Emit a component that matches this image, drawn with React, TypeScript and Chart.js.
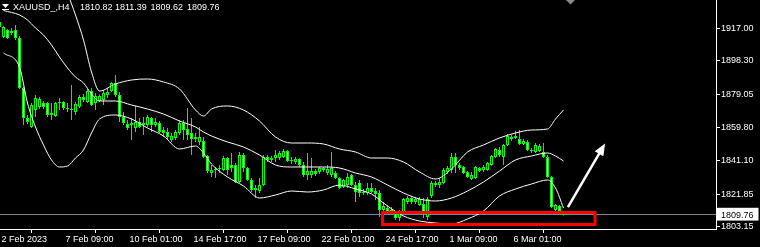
import React, { useEffect, useRef } from 'react';
import { Chart, registerables } from 'chart.js';

Chart.register(...registerables);

// ---- OHLC (H4 bars, index 0 is the partly hidden first bar) ----
const opens = [
  1917.8, 1912.0, 1916.0, 1914.3, 1916.0, 1911.4, 1882.7, 1865.5, 1860.4, 1870.1,
  1871.8, 1874.1, 1874.1, 1867.3, 1866.7, 1874.1, 1874.7, 1871.3, 1870.7, 1869.0,
  1872.0, 1877.6, 1874.7, 1881.0, 1874.1, 1875.3, 1875.9, 1878.7, 1881.0, 1885.6,
  1878.7, 1866.1, 1862.1, 1861.5, 1859.8, 1863.2, 1861.5, 1861.5, 1865.5, 1861.5,
  1862.7, 1858.6, 1857.5, 1852.9, 1854.1, 1856.9, 1862.7, 1859.2, 1856.9, 1853.5,
  1851.8, 1852.3, 1843.7, 1834.0, 1835.7, 1836.3, 1835.7, 1842.6, 1838.6, 1838.6,
  1828.8, 1844.3, 1836.8, 1830.0, 1824.2, 1823.6, 1827.1, 1843.2, 1841.4, 1842.6,
  1842.6, 1843.2, 1846.6, 1840.9, 1840.3, 1842.0, 1838.6, 1832.8, 1832.8, 1835.1,
  1834.5, 1836.8, 1834.0, 1832.8, 1834.0, 1831.1, 1825.9, 1827.1, 1832.8, 1827.1,
  1828.2, 1822.5, 1822.5, 1825.4, 1823.6, 1822.5, 1812.7, 1813.9, 1811.6, 1811.0,
  1808.1, 1811.6, 1817.3, 1819.6, 1817.3, 1815.6, 1816.2, 1808.7, 1820.8, 1828.2,
  1827.1, 1828.2, 1834.5, 1835.7, 1843.2, 1838.6, 1837.4, 1834.5, 1830.5, 1831.1,
  1836.8, 1835.7, 1835.7, 1838.6, 1843.2, 1847.2, 1843.2, 1850.0, 1853.5, 1854.1,
  1853.5, 1850.6, 1851.8, 1847.2, 1846.0, 1846.6, 1846.0, 1843.2, 1831.7, 1812.7,
  1815.0, 1810.82,
];
const highs = [
  1921.8, 1918.3, 1916.6, 1917.2, 1918.9, 1912.6, 1883.3, 1867.3, 1874.1, 1878.7,
  1877.6, 1875.3, 1874.7, 1874.1, 1874.7, 1877.0, 1875.3, 1874.1, 1884.5, 1874.7,
  1878.7, 1879.3, 1882.2, 1882.7, 1879.9, 1879.0, 1881.6, 1882.7, 1886.2, 1890.2,
  1880.5, 1869.0, 1864.4, 1865.5, 1872.4, 1865.5, 1866.1, 1867.3, 1866.1, 1865.5,
  1863.8, 1860.4, 1859.8, 1856.9, 1858.6, 1864.4, 1864.4, 1871.3, 1865.5, 1856.9,
  1860.4, 1854.6, 1844.3, 1838.6, 1837.4, 1838.6, 1843.7, 1843.2, 1845.5, 1839.7,
  1846.0, 1845.5, 1837.4, 1831.1, 1827.1, 1831.1, 1844.3, 1844.3, 1843.7, 1847.2,
  1846.6, 1847.7, 1847.2, 1843.2, 1843.2, 1842.6, 1840.3, 1845.5, 1842.6, 1836.3,
  1837.4, 1837.4, 1838.6, 1846.0, 1835.1, 1831.7, 1830.5, 1834.0, 1833.4, 1828.8,
  1830.0, 1824.8, 1828.2, 1828.2, 1825.4, 1824.2, 1817.3, 1815.6, 1814.5, 1812.2,
  1812.7, 1819.6, 1820.8, 1820.8, 1820.2, 1820.2, 1819.6, 1820.2, 1829.4, 1829.4,
  1831.1, 1836.8, 1838.0, 1845.5, 1845.5, 1839.7, 1838.0, 1835.1, 1834.5, 1838.0,
  1837.4, 1838.6, 1840.3, 1844.3, 1848.3, 1848.9, 1850.6, 1856.3, 1855.8, 1858.1,
  1858.6, 1853.5, 1852.9, 1848.3, 1851.2, 1850.6, 1851.2, 1844.3, 1832.3, 1816.2,
  1815.6, 1811.39,
];
const lows = [
  1917.2, 1911.4, 1910.9, 1913.2, 1910.3, 1882.2, 1861.5, 1862.1, 1859.8, 1866.1,
  1870.7, 1870.7, 1866.1, 1864.4, 1866.1, 1870.1, 1870.1, 1869.0, 1864.4, 1867.3,
  1871.3, 1874.7, 1874.1, 1872.4, 1870.1, 1874.7, 1873.0, 1877.0, 1880.5, 1877.6,
  1863.2, 1861.5, 1858.6, 1852.9, 1857.5, 1859.8, 1855.8, 1860.4, 1857.5, 1860.4,
  1856.9, 1854.6, 1852.9, 1851.8, 1852.9, 1855.8, 1852.9, 1852.9, 1844.3, 1851.8,
  1850.0, 1842.6, 1834.0, 1831.7, 1831.1, 1834.0, 1835.1, 1832.8, 1834.5, 1828.2,
  1828.2, 1834.5, 1829.4, 1823.1, 1819.6, 1822.5, 1826.5, 1840.3, 1840.3, 1840.3,
  1841.4, 1842.6, 1840.3, 1839.1, 1839.1, 1837.4, 1831.7, 1830.0, 1831.1, 1832.3,
  1833.4, 1834.5, 1832.8, 1831.7, 1830.5, 1824.8, 1825.4, 1825.4, 1826.5, 1817.3,
  1820.2, 1821.4, 1821.4, 1822.5, 1818.5, 1808.7, 1811.0, 1810.4, 1810.4, 1807.0,
  1806.4, 1810.4, 1816.2, 1816.2, 1816.2, 1815.0, 1808.1, 1807.0, 1819.6, 1825.9,
  1825.4, 1827.6, 1833.4, 1834.0, 1834.0, 1835.7, 1833.4, 1831.1, 1830.0, 1830.5,
  1834.5, 1834.5, 1835.1, 1838.0, 1842.6, 1843.2, 1838.6, 1849.5, 1852.3, 1853.5,
  1850.0, 1850.0, 1846.6, 1845.5, 1845.5, 1846.0, 1842.6, 1831.1, 1813.9, 1812.2,
  1811.0, 1809.62,
];
const closes = [
  1920.6, 1917.8, 1911.4, 1915.4, 1911.4, 1882.7, 1865.5, 1863.2, 1873.0, 1877.0,
  1876.4, 1871.8, 1867.3, 1868.4, 1874.1, 1874.7, 1871.3, 1870.7, 1870.1, 1873.6,
  1877.6, 1875.9, 1881.0, 1873.0, 1878.2, 1878.2, 1879.9, 1880.5, 1885.6, 1878.7,
  1866.1, 1862.7, 1859.8, 1862.7, 1863.2, 1860.4, 1862.7, 1866.1, 1861.5, 1863.2,
  1857.5, 1856.9, 1854.6, 1855.2, 1857.5, 1862.7, 1858.6, 1855.8, 1853.5, 1854.6,
  1854.6, 1843.2, 1835.1, 1835.7, 1836.3, 1836.8, 1842.6, 1835.7, 1836.8, 1828.8,
  1844.3, 1836.8, 1830.0, 1824.2, 1825.4, 1827.1, 1843.2, 1841.4, 1842.6, 1844.3,
  1845.5, 1846.6, 1840.9, 1841.4, 1842.0, 1838.6, 1832.8, 1835.1, 1835.1, 1833.4,
  1836.8, 1835.7, 1836.3, 1836.8, 1831.1, 1825.4, 1830.0, 1831.7, 1827.1, 1823.1,
  1822.5, 1823.1, 1825.4, 1823.1, 1821.9, 1812.7, 1815.0, 1811.6, 1812.7, 1808.1,
  1811.0, 1819.0, 1819.6, 1817.3, 1819.0, 1819.0, 1811.6, 1819.0, 1828.2, 1827.1,
  1828.8, 1835.7, 1836.8, 1843.2, 1838.6, 1836.8, 1834.0, 1831.7, 1832.8, 1837.4,
  1835.1, 1837.4, 1839.7, 1843.7, 1847.7, 1844.3, 1850.0, 1855.2, 1854.6, 1855.2,
  1850.6, 1852.3, 1847.2, 1846.6, 1850.0, 1849.5, 1843.2, 1831.7, 1814.5, 1815.6,
  1812.2, 1809.76,
];

// ---- Bollinger bands, read at these bar indexes ----
const bandIndex = [
  1, 5, 7, 9, 11, 13, 15, 17, 19, 21, 23, 25, 29, 33, 37, 41, 45, 49, 51, 53,
  57, 61, 65, 69, 73, 77, 81, 85, 89, 93, 97, 101, 105, 109, 113, 117, 121, 125, 129, 133,
  137, 139, 141,
];
const upperBand = [
  1952.18, 1961.93, 1965.37, 1967.67, 1968.24, 1966.52, 1956.19, 1937.83, 1924.63, 1910.29,
  1891.92, 1881.02, 1885.04, 1887.33, 1887.91, 1886.19, 1882.17, 1870.12, 1866.68, 1870.69,
  1872.42, 1870.12, 1863.81, 1854.62, 1851.18, 1851.18, 1850.61, 1847.74, 1846.02, 1842.57,
  1842.57, 1840.28, 1834.54, 1830.52, 1836.26, 1846.02, 1850.04, 1854.05, 1856.92, 1858.64,
  1859.22, 1864.95, 1870.12,
];
const middleBand = [
  1927.21, 1924.63, 1921.76, 1917.17, 1913.15, 1907.41, 1900.53, 1894.22, 1889.05, 1885.61,
  1879.30, 1875.28, 1875.28, 1872.99, 1870.69, 1867.82, 1863.81, 1860.37, 1857.49, 1855.20,
  1851.76, 1848.88, 1844.30, 1838.56, 1837.41, 1837.41, 1837.41, 1836.84, 1833.97, 1831.67,
  1827.08, 1822.49, 1819.05, 1817.90, 1819.62, 1823.64, 1828.80, 1835.11, 1841.43, 1843.72,
  1845.45, 1843.72, 1840.85,
];
const lowerBand = [
  1902.83, 1894.79, 1874.13, 1860.37, 1850.04, 1841.43, 1837.41, 1837.98, 1842.57, 1847.17,
  1856.92, 1864.95, 1867.25, 1864.95, 1859.79, 1855.20, 1847.74, 1849.46, 1845.45, 1839.13,
  1831.67, 1826.51, 1819.62, 1821.34, 1823.64, 1823.06, 1824.21, 1827.08, 1824.78, 1821.91,
  1815.03, 1809.29, 1806.42, 1805.27, 1804.70, 1807.57, 1812.16, 1820.77, 1824.78, 1827.65,
  1829.95, 1825.36, 1813.88,
];

// ---- axes ----
const timeTickIndex = [0, 16, 32, 48, 64, 80, 96, 112, 128];
const timeTickLabels = [
  '2 Feb 2023', '7 Feb 09:00', '10 Feb 01:00', '14 Feb 17:00', '17 Feb 09:00',
  '22 Feb 01:00', '24 Feb 17:00', '1 Mar 09:00', '6 Mar 01:00',
];
const priceTicks = [1803.15, 1821.85, 1841.10, 1859.80, 1879.05, 1898.30, 1917.00];
const lastPrice = 1809.76;
const titleSymbol = 'XAUUSD_,H4';
const titleValues = ['1810.82', '1811.39', '1809.62', '1809.76'];

// ---- annotations (data coordinates) ----
const boxX = [95.75, 148.875];
const boxY = [1811.6, 1804.7];
const arrowX = [142.1, 151.4];
const arrowY = [1814.4, 1850.9];

const FONT = '"Liberation Sans", Arial, sans-serif';

export default function App() {
  const ref = useRef<HTMLCanvasElement>(null);

  useEffect(() => {
    document.body.style.margin = '0';
    document.body.style.background = '#000';
    const canvas = ref.current!;
    const idx = opens.map((_, i) => i);
    const wickData = idx.map((i) => ({ x: i, y: [lows[i], highs[i]] }));
    const bodyData = idx.map((i) => ({ x: i, y: [opens[i], closes[i]] }));
    const band = (vals: number[]) => bandIndex.map((x, j) => ({ x, y: vals[j] }));

    const overlay = {
      id: 'overlay',
      beforeDatasetsDraw(chart: any) {
        const { ctx, chartArea, scales } = chart;
        const py = Math.round(scales.y.getPixelForValue(lastPrice)) - 0.5;
        ctx.save();
        ctx.strokeStyle = '#778899';
        ctx.lineWidth = 1;
        ctx.beginPath();
        ctx.moveTo(chartArea.left, py);
        ctx.lineTo(chartArea.right, py);
        ctx.stroke();
        ctx.restore();
      },
      afterDatasetsDraw(chart: any) {
        const { ctx, scales } = chart;
        const { x, y } = scales;
        ctx.save();
        // red rectangle
        const x0 = x.getPixelForValue(boxX[0]);
        const x1 = x.getPixelForValue(boxX[1]);
        const y0 = Math.round(y.getPixelForValue(boxY[0])) + 0.5;
        const y1 = Math.round(y.getPixelForValue(boxY[1])) + 0.5;
        ctx.strokeStyle = '#ff0000';
        ctx.lineWidth = 3;
        ctx.strokeRect(x0, y0, x1 - x0, y1 - y0);
        // arrow
        const ax0 = x.getPixelForValue(arrowX[0]);
        const ay0 = y.getPixelForValue(arrowY[0]);
        const ax1 = x.getPixelForValue(arrowX[1]);
        const ay1 = y.getPixelForValue(arrowY[1]);
        const dx = ax1 - ax0, dy = ay1 - ay0;
        const len = Math.hypot(dx, dy);
        const ux = dx / len, uy = dy / len;
        const px = -uy, py = ux;
        const hl = 12, hw = 5;
        ctx.strokeStyle = '#ffffff';
        ctx.fillStyle = '#ffffff';
        ctx.lineWidth = 2.5;
        ctx.beginPath();
        ctx.moveTo(ax0, ay0);
        ctx.lineTo(ax1 - ux * (hl - 2), ay1 - uy * (hl - 2));
        ctx.stroke();
        ctx.beginPath();
        ctx.moveTo(ax1, ay1);
        ctx.lineTo(ax1 - ux * hl + px * hw, ay1 - uy * hl + py * hw);
        ctx.lineTo(ax1 - ux * hl - px * hw, ay1 - uy * hl - py * hw);
        ctx.closePath();
        ctx.fill();
        ctx.restore();
      },
      afterDraw(chart: any) {
        const { ctx } = chart;
        ctx.save();
        // small icon
        ctx.fillStyle = '#ffffff';
        ctx.beginPath();
        ctx.moveTo(2, 4);
        ctx.lineTo(9, 4);
        ctx.lineTo(5.5, 8);
        ctx.closePath();
        ctx.fill();
        ctx.fillRect(2, 9, 7, 1);
        // title
        ctx.font = '9px ' + FONT;
        ctx.textBaseline = 'alphabetic';
        ctx.textAlign = 'left';
        ctx.fillText(titleSymbol, 13, 10);
        const xs = [80, 115, 150.5, 187];
        titleValues.forEach((t, i) => ctx.fillText(t, xs[i], 10));
        // chart shift marker
        ctx.fillStyle = '#8a8a8a';
        ctx.beginPath();
        ctx.moveTo(566, 0);
        ctx.lineTo(575, 0);
        ctx.lineTo(570.5, 4.5);
        ctx.closePath();
        ctx.fill();
        ctx.restore();
      },
    };

    const chart = new Chart(canvas, {
      type: 'bar',
      data: {
        datasets: [
          {
            type: 'line', data: band(upperBand), borderColor: '#ffffff', borderWidth: 1,
            pointRadius: 0, cubicInterpolationMode: 'monotone', order: 0,
          } as any,
          {
            type: 'line', data: band(middleBand), borderColor: '#ffffff', borderWidth: 1,
            pointRadius: 0, cubicInterpolationMode: 'monotone', order: 0,
          } as any,
          {
            type: 'line', data: band(lowerBand), borderColor: '#ffffff', borderWidth: 1,
            pointRadius: 0, cubicInterpolationMode: 'monotone', order: 0,
          } as any,
          {
            type: 'bar', data: bodyData as any,
            backgroundColor: (c: any) => (closes[c.dataIndex] < opens[c.dataIndex] ? '#ffffff' : '#000000'),
            borderColor: '#00ff00', borderWidth: 1, borderSkipped: false,
            barThickness: 3, grouped: false, minBarLength: 1, inflateAmount: 0, order: 1,
          } as any,
          {
            type: 'bar', data: wickData as any, backgroundColor: '#00ff00', borderWidth: 0,
            barThickness: 1, grouped: false, inflateAmount: 0, order: 2,
          } as any,
        ],
      },
      options: {
        animation: false,
        responsive: false,
        maintainAspectRatio: false,
        layout: { padding: 0 },
        events: [],
        plugins: { legend: { display: false }, tooltip: { enabled: false }, title: { display: false } },
        scales: {
          x: {
            type: 'linear', min: 0.125, max: 179.125, offset: false,
            grid: { display: true, drawOnChartArea: false, drawTicks: true, tickLength: 4, color: '#ffffff' },
            border: { display: true, color: '#ffffff', width: 1 },
            ticks: {
              autoSkip: false, maxRotation: 0, minRotation: 0, align: 'start', labelOffset: 2, padding: 1,
              color: '#ffffff', font: { family: FONT, size: 9 },
              callback: (v: any) => {
                const j = timeTickIndex.indexOf(Number(v));
                return j >= 0 ? timeTickLabels[j] : '';
              },
            },
            afterBuildTicks: (s: any) => { s.ticks = timeTickIndex.map((v) => ({ value: v })); },
            afterFit: (s: any) => { s.height = 18; s.paddingLeft = 0; s.paddingRight = 0; s.paddingTop = 0; s.paddingBottom = 0; },
          } as any,
          y: {
            type: 'linear', position: 'right', min: 1801.83, max: 1933.24,
            grid: { display: true, drawOnChartArea: false, drawTicks: true, tickLength: 4, color: '#ffffff' },
            border: { display: true, color: '#ffffff', width: 1 },
            ticks: {
              autoSkip: false, padding: 1,
              color: (c: any) => (c.tick && c.tick.value === lastPrice ? '#000000' : '#ffffff'),
              showLabelBackdrop: (c: any) => !!(c.tick && c.tick.value === lastPrice),
              backdropColor: '#ffffff',
              backdropPadding: { top: 2, bottom: 0, left: 4, right: 5 },
              font: { family: FONT, size: 9 },
              callback: (v: any) => Number(v).toFixed(2),
            },
            afterBuildTicks: (s: any) => {
              s.ticks = [...priceTicks, lastPrice].sort((a, b) => a - b).map((v) => ({ value: v }));
            },
            afterFit: (s: any) => { s.width = 44; s.paddingTop = 0; s.paddingBottom = 0; s.paddingLeft = 0; s.paddingRight = 0; },
          } as any,
        },
      },
      plugins: [overlay],
    });

    return () => chart.destroy();
  }, []);

  return (
    <div style={{ width: 760, height: 247, background: '#000' }}>
      <canvas ref={ref} width={760} height={247} style={{ display: 'block', width: 760, height: 247 }} />
    </div>
  );
}
